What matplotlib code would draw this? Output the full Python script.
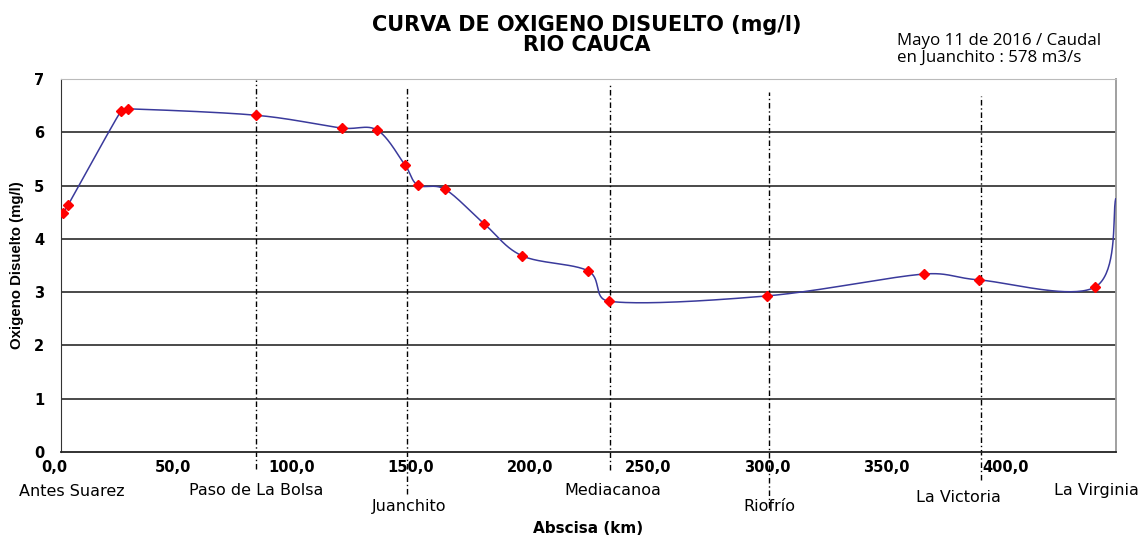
import numpy as np
import matplotlib
matplotlib.use("Agg")
import matplotlib.pyplot as plt
import matplotlib.transforms as mtransforms
from matplotlib.ticker import FuncFormatter

# measured points along the river (km, mg/l)
abscisa = [0.8, 2.9, 25.2, 28.2, 82.0, 118.0, 133.0, 144.7, 150.0, 161.5,
           178.0, 194.0, 221.6, 230.4, 297.0, 363.0, 386.0, 435.0, 443.5]
oxigeno = [4.48, 4.63, 6.40, 6.44, 6.32, 6.08, 6.04, 5.38, 5.01, 4.93,
           4.28, 3.68, 3.40, 2.83, 2.93, 3.34, 3.23, 3.10, 4.75]

estaciones = ["Antes Suarez", "Paso de La Bolsa", "Juanchito", "Mediacanoa",
              "Riofrío", "La Victoria", "La Virginia"]
est_km = [4.5, 82.0, 146.5, 232.0, 298.0, 377.5, 435.5]
est_y = [-0.75, -0.73, -1.03, -0.73, -1.03, -0.85, -0.73]

lineas_km = [82.0, 145.3, 231.0, 297.7, 387.0]
lineas_top = [6.99, 6.86, 6.91, 6.76, 6.68]
lineas_bot = [-0.32, -0.78, -0.34, -1.05, -0.52]

XMAX = 443.6


def smooth_curve(x, y, sx, sy, n=40):
    # bezier smoothing like the spreadsheet "smoothed line" option
    p = np.column_stack([np.array(x) * sx, np.array(y) * sy])
    pts = np.vstack([p[0], p, p[-1]])
    out = []
    for i in range(1, len(pts) - 2):
        p0, p1, p2, p3 = pts[i - 1], pts[i], pts[i + 1], pts[i + 2]
        seg_len = np.linalg.norm(p2 - p1)
        t1 = (p2 - p0) / 6.0
        t2 = (p3 - p1) / 6.0
        # keep control points from running past short segments (no loops)
        lim = 0.45 * seg_len
        if np.linalg.norm(t1) > lim:
            t1 = t1 * lim / np.linalg.norm(t1)
        if np.linalg.norm(t2) > lim:
            t2 = t2 * lim / np.linalg.norm(t2)
        c1 = p1 + t1
        c2 = p2 - t2
        t = np.linspace(0, 1, n)[:, None]
        seg = ((1 - t) ** 3) * p1 + 3 * ((1 - t) ** 2) * t * c1 + 3 * (1 - t) * t ** 2 * c2 + t ** 3 * p2
        out.append(seg)
    out = np.vstack(out)
    return out[:, 0] / sx, out[:, 1] / sy


fig = plt.figure(figsize=(11.41, 5.36), dpi=100)
ax = fig.add_axes([0.0535, 0.1567, 0.9245, 0.6959])

# pixels per unit so smoothing happens in screen space
sx = 1055 / XMAX
sy = 373 / 7.0
cx, cy = smooth_curve(abscisa, oxigeno, sx, sy)
ax.plot(cx, cy, color="#3a3a9c", lw=1.1, zorder=3)
ax.plot(abscisa[:-1], oxigeno[:-1], linestyle="none", marker="D", color="#ff0000",
        markersize=5, zorder=4)

ax.set_xlim(0, XMAX)
ax.set_ylim(0, 7)
ax.set_xticks(np.arange(0, 401, 50))
ax.set_yticks(range(0, 8))
ax.xaxis.set_major_formatter(FuncFormatter(lambda v, p: f"{v:.1f}".replace(".", ",")))
ax.tick_params(axis="both", length=0, labelsize=10.5)
ax.tick_params(axis="x", pad=6)
ax.tick_params(axis="y", pad=12)
shift = mtransforms.ScaledTranslation(-7 / 100, 0, fig.dpi_scale_trans)
for lab in ax.get_xticklabels():
    lab.set_transform(lab.get_transform() + shift)
for lab in ax.get_xticklabels() + ax.get_yticklabels():
    lab.set_fontweight("bold")
    lab.set_family("DejaVu Sans")
for y in range(1, 7):
    ax.axhline(y, color="#2a2a2a", lw=1.2, zorder=1)

ax.spines["left"].set_color("#333333")
ax.spines["bottom"].set_color("#222222")
ax.spines["bottom"].set_linewidth(1.3)
ax.spines["top"].set_color("#bbbbbb")
ax.spines["right"].set_color("#999999")
ax.spines["right"].set_linewidth(1.3)

for xk, yt, yb in zip(lineas_km, lineas_top, lineas_bot):
    ax.plot([xk, xk], [yb, yt], color="black", lw=1.0, linestyle=(0, (4, 2, 1, 2)),
            clip_on=False, zorder=2)

for name, xk, yk in zip(estaciones, est_km, est_y):
    ax.text(xk, yk, name, ha="center", va="center", fontsize=11.5,
            family="DejaVu Sans", clip_on=False)

ax.set_xlabel("Abscisa (km)", fontsize=11, fontweight="bold", labelpad=33,
              family="DejaVu Sans")
ax.set_ylabel("Oxigeno Disuelto (mg/l)", fontsize=10.8, fontweight="bold",
              family="Liberation Sans", labelpad=7)

fig.text(0.5145, 0.935, "CURVA DE OXIGENO DISUELTO (mg/l)\nRIO CAUCA", ha="center",
         va="center", fontsize=15, fontweight="bold", family="DejaVu Sans",
         linespacing=1.0)
fig.text(0.786, 0.908, "Mayo 11 de 2016 / Caudal\nen Juanchito : 578 m3/s",
         ha="left", va="center", fontsize=12.2, family="Open Sans", linespacing=1.1)

fig.savefig("out.png", dpi=100)
